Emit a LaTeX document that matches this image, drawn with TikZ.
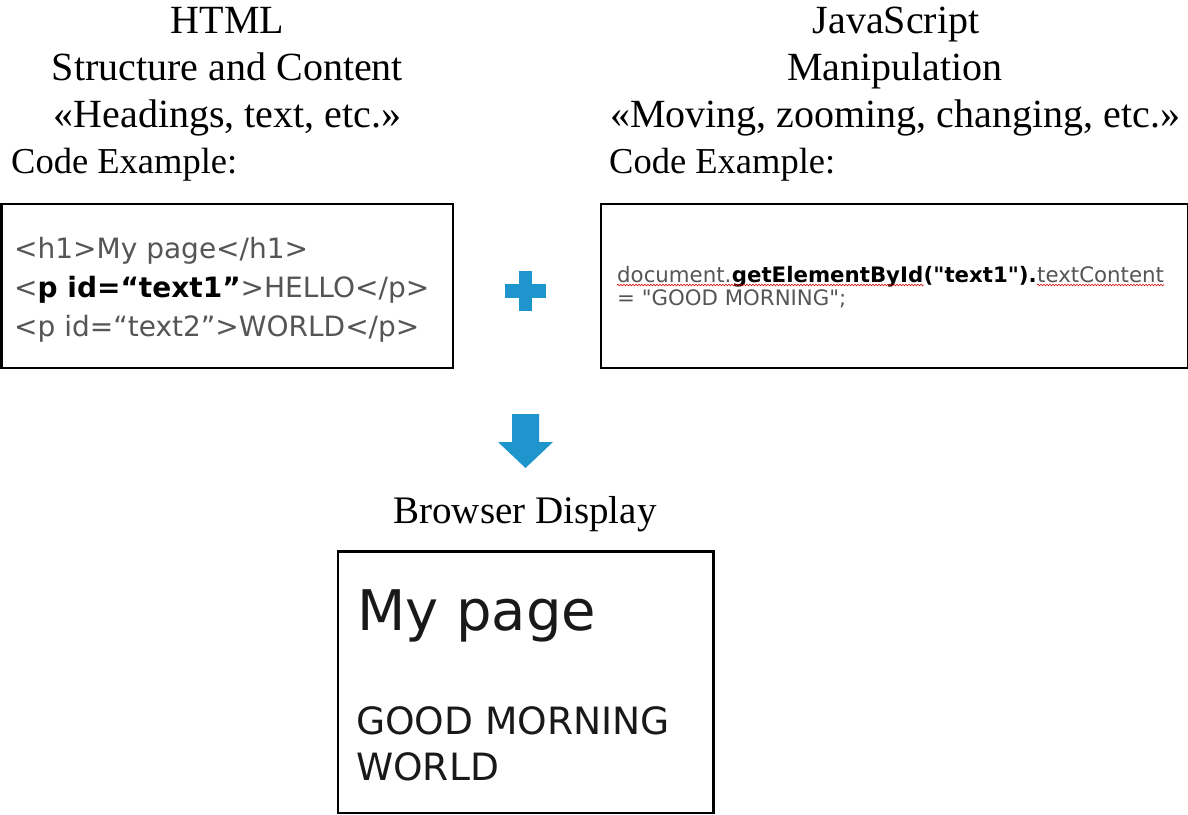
\documentclass[tikz,border=0pt]{standalone}
\usepackage{fontspec}
\setmainfont{Liberation Serif}
\newfontfamily\codigofont{DejaVu Sans}
\usetikzlibrary{positioning,decorations.pathmorphing}
\definecolor{azul}{RGB}{30,150,205}
\definecolor{gris}{RGB}{85,85,85}
\definecolor{tinta}{RGB}{25,25,25}

\begin{document}
\begin{tikzpicture}[x=1pt, y=-1pt,
    titulo/.style={inner sep=0, anchor=base, font=\fontsize{40}{49}\selectfont},
    etiqueta/.style={inner sep=0, anchor=base west, font=\fontsize{36.5}{44}\selectfont},
    caja/.style={draw=black, line width=2.8pt, inner sep=0},
    codigo/.style={inner sep=0, anchor=base west, text=gris,
                   font=\codigofont\fontsize{28}{39}\selectfont},
    js/.style={inner sep=0, anchor=base west, text=gris,
               font=\codigofont\fontsize{21.3}{23}\selectfont},
    resaltado/.style={text=black, font=\codigofont\bfseries\fontsize{21.3}{23}\selectfont},
    onda/.style={draw=red!85!black, line width=0.6pt, decorate,
                 decoration={snake, amplitude=0.8pt, segment length=3pt}},
    pantalla/.style={inner sep=0, anchor=base west, text=tinta}]
  \useasboundingbox (0,0) rectangle (1188,814);
  % titulos
  \node[titulo] (htmltit) at (227.5,33) {HTML};
  \node[titulo] (htmlsub) at (227.5,80) {Structure and Content};
  \node[titulo] (htmldesc) at (227.5,127) {«Headings, text, etc.»};
  \node[etiqueta] (htmlej) at (11,173) {Code Example:};
  \node[titulo] (jstit) at (896,33) {JavaScript};
  \node[titulo] (jssub) at (895,80) {Manipulation};
  \node[titulo] (jsdesc) at (895,127) {«Moving, zooming, changing, etc.»};
  \node[etiqueta] (jsej) at (609,173) {Code Example:};
  % cajas de codigo
  \node[caja, minimum width=451.5, minimum height=164] (html) at (227.25,286) {};
  \node[codigo] (h1) at (14,258) {<h1>My page</h1>};
  \node[codigo] (h2) at (14,297) {<\textcolor{black}{\bfseries p id=“text1”}>HELLO</p>};
  \node[codigo] (h3) at (14,336) {<p id=“text2”>WORLD</p>};
  \node[caja, minimum width=587.5, minimum height=164] (jscaja) at (894.75,286) {};
  \node[js] (jsdoc) at (617,282) {document.};
  \node[js, resaltado] (jsget) at (jsdoc.base east) {getElementById};
  \node[js, resaltado] (jsarg) at (jsget.base east) {("text1").};
  \node[js] (jscont) at (jsarg.base east) {textContent};
  \node[js] (jsval) at (617,305) {= "GOOD MORNING";};
  \draw[onda] ([yshift=-3]jsdoc.base west) -- ([yshift=-3]jsget.base east);
  \draw[onda] ([yshift=-3]jscont.base west) -- ([yshift=-3]jscont.base east);
  % signos
  \fill[azul] (518.5,271) rectangle (532,311);
  \fill[azul] (505,284) rectangle (545.5,298);
  \fill[azul] (512,414) -- (539,414) -- (539,442) -- (553,442) -- (525.5,468)
    -- (498,442) -- (512,442) -- cycle;
  % navegador
  \node[titulo, font=\fontsize{39}{47}\selectfont] (navtit) at (525,523) {Browser Display};
  \node[caja, minimum width=375.5, minimum height=261.5] (nav) at (525.75,682.25) {};
  \node[pantalla, font=\codigofont\fontsize{56}{66}\selectfont] (navh1) at (357,630) {My page};
  \node[pantalla, font=\codigofont\fontsize{37.6}{46}\selectfont] (navp1) at (356,734) {GOOD MORNING};
  \node[pantalla, font=\codigofont\fontsize{37.6}{46}\selectfont] (navp2) at (356,780) {WORLD};
\end{tikzpicture}
\end{document}
